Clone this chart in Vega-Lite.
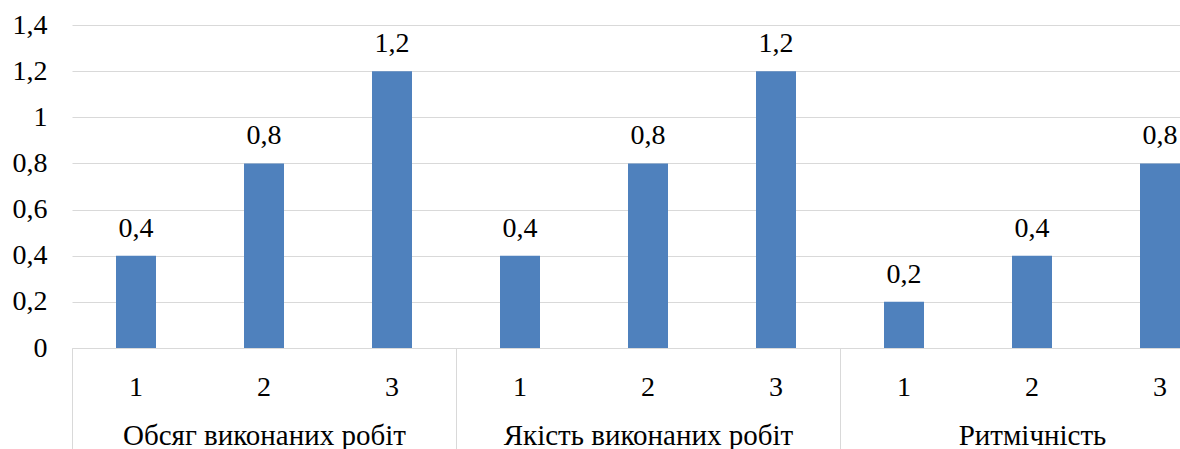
{
  "$schema": "https://vega.github.io/schema/vega-lite/v6.json",
  "width": 1108,
  "height": 323,
  "autosize": {"type": "none"},
  "padding": {"left": 72, "top": 25, "right": 0, "bottom": 101},
  "background": "white",
  "config": {
    "locale": {"number": {"decimal": ",", "thousands": " ", "grouping": [3], "currency": ["", " грн"]}},
    "view": {"stroke": null},
    "font": "Liberation Serif"
  },
  "data": {
    "values": [
      {"group": "Обсяг виконаних робіт", "id": "Обсяг виконаних робіт / 1", "value": 0.4},
      {"group": "Обсяг виконаних робіт", "id": "Обсяг виконаних робіт / 2", "value": 0.8},
      {"group": "Обсяг виконаних робіт", "id": "Обсяг виконаних робіт / 3", "value": 1.2},
      {"group": "Якість виконаних робіт", "id": "Якість виконаних робіт / 1", "value": 0.4},
      {"group": "Якість виконаних робіт", "id": "Якість виконаних робіт / 2", "value": 0.8},
      {"group": "Якість виконаних робіт", "id": "Якість виконаних робіт / 3", "value": 1.2},
      {"group": "Ритмічність", "id": "Ритмічність / 1", "value": 0.2},
      {"group": "Ритмічність", "id": "Ритмічність / 2", "value": 0.4},
      {"group": "Ритмічність", "id": "Ритмічність / 3", "value": 0.8}
    ]
  },
  "layer": [
    {
      "layer": [
        {
          "mark": {"type": "bar", "color": "#4f81bd"},
          "encoding": {
            "x": {
              "field": "id", "type": "nominal", "sort": null,
              "scale": {"range": [0, 1152], "paddingInner": 0.6875, "paddingOuter": 0.34375},
              "axis": {
                "orient": "bottom", "title": null, "labelExpr": "slice(datum.label, -1)",
                "ticks": false, "labelAngle": 0, "labelFont": "Liberation Serif", "labelFontSize": 28,
                "labelColor": "black", "labelPadding": 25, "domainColor": "#d9d9d9", "labelOverlap": false
              }
            },
            "y": {
              "field": "value", "type": "quantitative",
              "scale": {"domain": [0, 1.4], "nice": false},
              "axis": {
                "title": null, "values": [0, 0.2, 0.4, 0.6, 0.8, 1, 1.2, 1.4], "format": ".1~f",
                "ticks": false, "domain": false, "grid": true, "gridColor": "#d9d9d9",
                "labelFont": "Liberation Serif", "labelFontSize": 28, "labelColor": "black", "labelPadding": 25
              }
            }
          }
        },
        {
          "mark": {"type": "text", "dy": -19, "baseline": "alphabetic", "font": "Liberation Serif", "fontSize": 28, "color": "black"},
          "encoding": {
            "x": {"field": "id", "type": "nominal", "sort": null},
            "y": {"field": "value", "type": "quantitative"},
            "text": {"field": "value", "type": "quantitative", "format": ".1~f"}
          }
        }
      ]
    },
    {
      "mark": {"type": "bar", "opacity": 0},
      "encoding": {
        "x": {
          "field": "group", "type": "nominal", "sort": null,
          "scale": {"range": [0, 1152], "paddingInner": 0, "paddingOuter": 0},
          "axis": {
            "orient": "bottom", "title": null, "tickBand": "extent", "tickSize": 101, "tickColor": "#d9d9d9",
            "domain": false, "labelAngle": 0, "labelPadding": -28, "labelFont": "Liberation Serif",
            "labelFontSize": 29, "labelColor": "black", "labelLimit": 0, "labelOverlap": false
          }
        },
        "y": {"field": "value", "type": "quantitative"}
      }
    }
  ],
  "resolve": {"scale": {"x": "independent"}}
}
